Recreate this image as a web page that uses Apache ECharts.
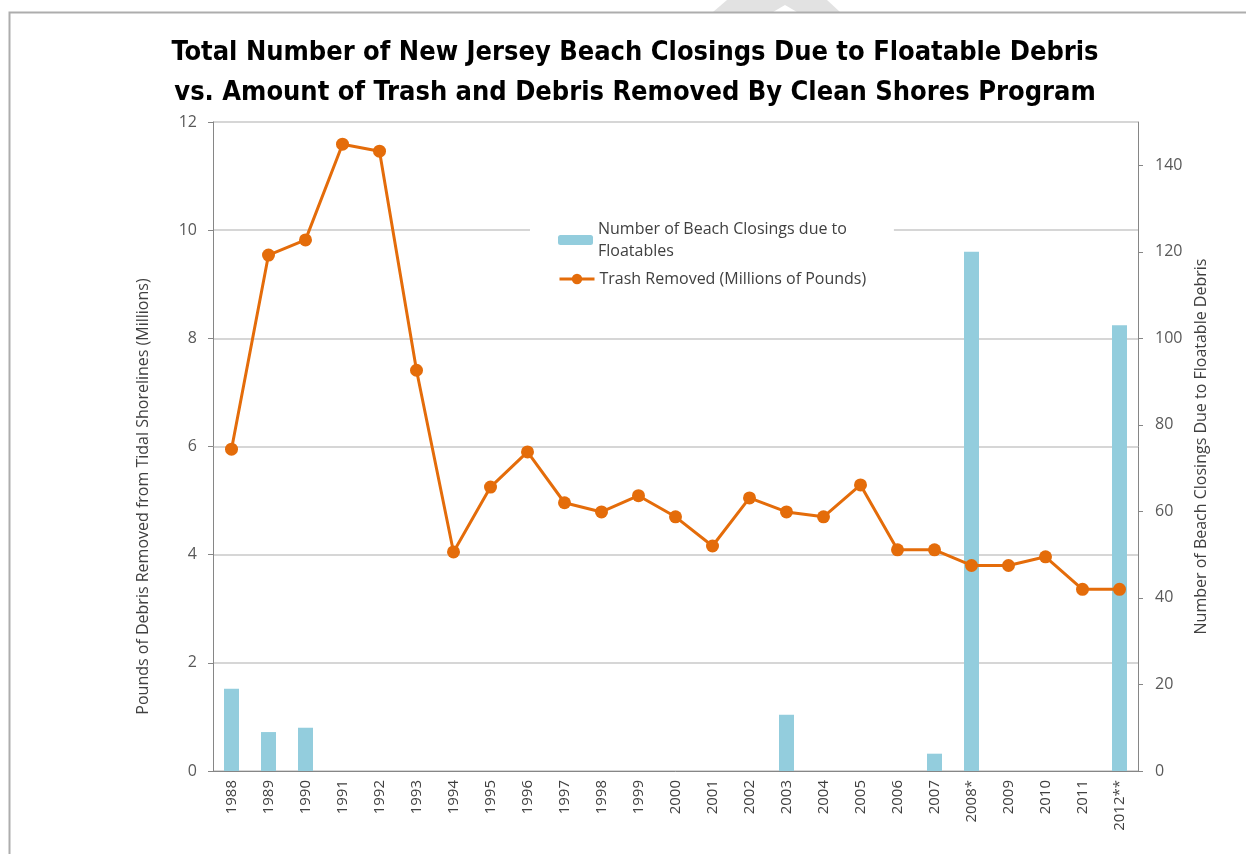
<!DOCTYPE html>
<html>
<head>
<meta charset="utf-8">
<title>NJ Beach Closings vs Clean Shores</title>
<script src="https://cdn.jsdelivr.net/npm/echarts@6/dist/echarts.min.js"></script>
<style>
  html, body { margin: 0; padding: 0; background: #fff; }
  #chart { width: 1246px; height: 854px; }
</style>
</head>
<body>
<div id="chart"></div>
<script>
// data
const years = ["1988", "1989", "1990", "1991", "1992", "1993", "1994", "1995", "1996",
  "1997", "1998", "1999", "2000", "2001", "2002", "2003", "2004", "2005", "2006",
  "2007", "2008*", "2009", "2010", "2011", "2012**"];
const closings = [19, 9, 10, 0, 0, 0, 0, 0, 0, 0, 0, 0, 0, 0, 0, 13, 0, 0, 0, 4, 120, 0, 0, 0, 103];
const trash = [5.95, 9.54, 9.82, 11.59, 11.46, 7.41, 4.05, 5.25, 5.90, 4.96, 4.79, 5.09, 4.70,
  4.16, 5.05, 4.79, 4.70, 5.29, 4.09, 4.09, 3.80, 3.80, 3.96, 3.36, 3.36];

const barName = "Number of Beach Closings due to\nFloatables";
const lineName = "Trash Removed (Millions of Pounds)";

const font = "'Open Sans', sans-serif";
const axisGray = "#868686";
const labelGray = "#595959";
const orange = "#e46c0a";

const chart = echarts.init(document.getElementById("chart"));

chart.setOption({
  backgroundColor: "#fff",
  animation: false,
  textStyle: { fontFamily: font },
  graphic: [
    // faint shape peeking in above the frame
    {
      type: "polygon",
      z: -1,
      shape: { points: [[713, 12], [727, 0], [827, 0], [840, 12], [797, 12], [785, 5], [773, 12]] },
      style: { fill: "#e2e2e2" }
    },
    {
      type: "rect",
      z: -1,
      shape: { x: 9.5, y: 12.5, width: 1300, height: 900 },
      style: { fill: "none", stroke: "#adadad", lineWidth: 2 }
    }
  ],
  title: {
    text: "Total Number of New Jersey Beach Closings Due to Floatable Debris\nvs. Amount of Trash and Debris Removed By Clean Shores Program",
    left: 630,
    textAlign: "center",
    top: 28,
    textStyle: {
      fontFamily: "'Liberation Sans Narrow', 'DejaVu Sans Condensed', sans-serif",
      fontWeight: "bold",
      fontSize: 27,
      lineHeight: 40,
      color: "#000"
    }
  },
  legend: [
    {
      orient: "vertical",
      left: 530,
      top: 210,
      padding: [8, 47, 38, 28],
      backgroundColor: "#fff",
      itemWidth: 35,
      itemHeight: 10,
      textStyle: { fontFamily: font, fontSize: 16, color: "#404040", lineHeight: 22 },
      data: [barName]
    },
    {
      orient: "vertical",
      left: 558,
      top: 271,
      padding: 0,
      itemWidth: 35,
      itemHeight: 13,
      lineStyle: { width: 3 },
      textStyle: { fontFamily: font, fontSize: 16, color: "#404040" },
      data: [lineName]
    }
  ],
  grid: { left: 213, right: 108, top: 122, bottom: 83 },
  xAxis: {
    type: "category",
    data: years,
    axisLine: { lineStyle: { color: axisGray } },
    axisTick: { length: 6, lineStyle: { color: axisGray } },
    axisLabel: { rotate: 90, interval: 0, fontSize: 15, color: "#404040", margin: 9 }
  },
  yAxis: [
    {
      type: "value",
      min: 0,
      max: 12,
      interval: 2,
      name: "Pounds of Debris Removed from Tidal Shorelines (Millions)",
      nameLocation: "middle",
      nameGap: 62,
      nameTextStyle: { fontSize: 16, color: "#404040", padding: [0, 100, 0, 0] },
      axisLine: { show: true, lineStyle: { color: axisGray } },
      axisTick: { show: true, length: 5, lineStyle: { color: axisGray } },
      axisLabel: { fontSize: 16, color: labelGray, margin: 16 },
      splitLine: { lineStyle: { color: "#c8c8c8", width: 1.5 } }
    },
    {
      type: "value",
      min: 0,
      max: 150,
      interval: 20,
      name: "Number of Beach Closings Due to Floatable Debris",
      nameLocation: "middle",
      nameGap: 54,
      nameTextStyle: { fontSize: 16, color: "#404040" },
      axisLine: { show: true, lineStyle: { color: axisGray } },
      axisTick: { show: true, length: 5, lineStyle: { color: axisGray } },
      axisLabel: { fontSize: 16, color: labelGray, margin: 17, showMaxLabel: false },
      splitLine: { show: false }
    }
  ],
  series: [
    {
      name: barName,
      type: "bar",
      yAxisIndex: 1,
      data: closings,
      barWidth: 15,
      itemStyle: { color: "#93cddd" },
      z: 2
    },
    {
      name: lineName,
      type: "line",
      yAxisIndex: 0,
      data: trash,
      symbol: "circle",
      symbolSize: 13,
      lineStyle: { color: orange, width: 3 },
      itemStyle: { color: orange },
      z: 3
    }
  ]
});
</script>
</body>
</html>
